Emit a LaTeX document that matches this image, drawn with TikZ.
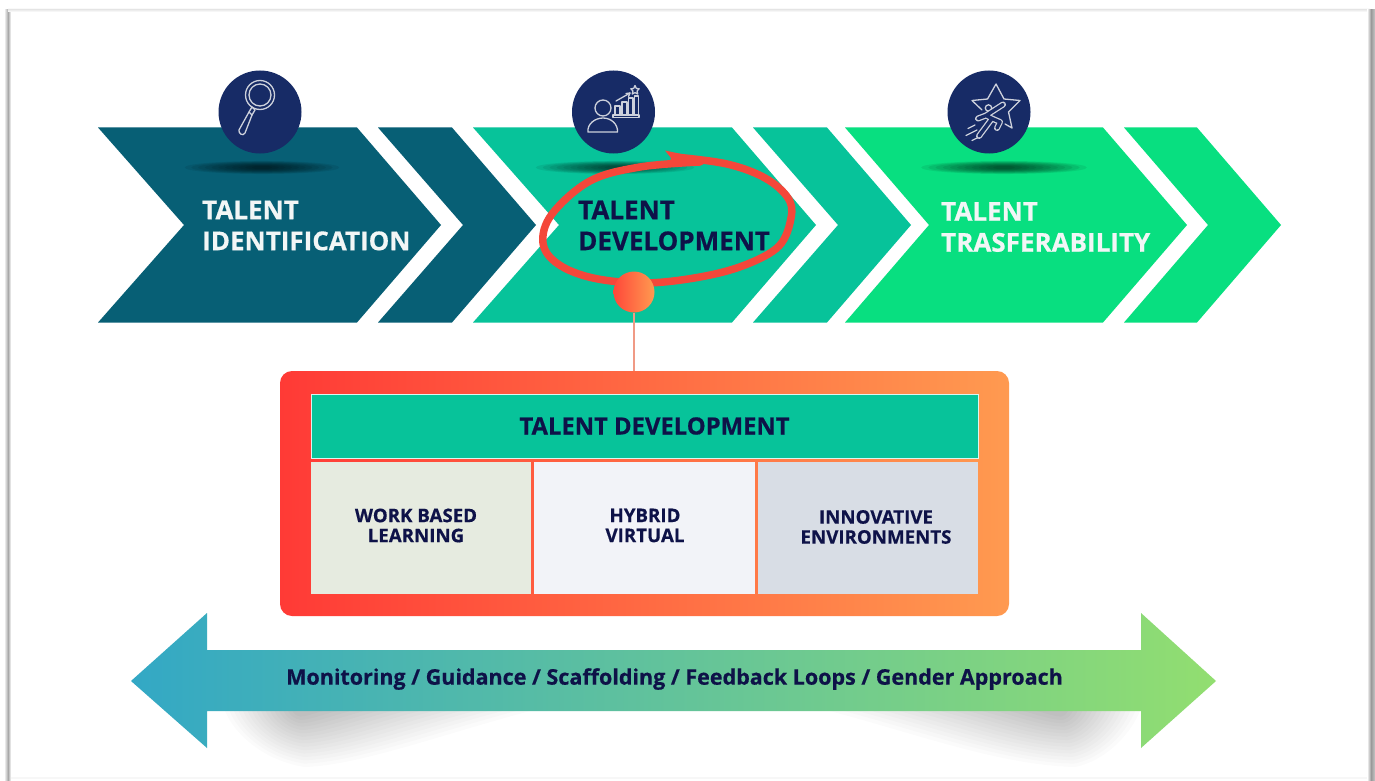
\documentclass[tikz,border=0pt]{standalone}
\usepackage{fontspec}
\setmainfont{Open Sans}[BoldFeatures={FakeBold=0.5}]
\definecolor{teal1}{HTML}{075F75}
\definecolor{teal2}{HTML}{07C39A}
\definecolor{teal3}{HTML}{08DF80}
\definecolor{navy}{HTML}{172B66}
\definecolor{ink}{HTML}{0E1248}
\definecolor{paper}{HTML}{F2F6F6}
\definecolor{icon}{HTML}{CDD1DC}
\definecolor{redloop}{HTML}{F4473A}
\definecolor{boxl}{HTML}{FF3A36}
\definecolor{boxr}{HTML}{FF9A50}
\definecolor{stem}{HTML}{F09A85}
\definecolor{cellA}{HTML}{E6EBE0}
\definecolor{cellB}{HTML}{F2F3F8}
\definecolor{cellC}{HTML}{D8DDE5}
\tikzset{
  iconline/.style={draw=icon,line width=1.3pt,line join=round,line cap=round},
  badge/.style={circle,fill=navy,minimum size=83pt,inner sep=0pt},
  steplabel/.style={anchor=west,align=left,inner sep=0pt,font=\bfseries\fontsize{26}{31}\selectfont},
  cellbox/.style={minimum height=132pt,inner sep=0pt,fill=#1},
  celltext/.style={inner sep=0pt,align=center,text=ink,font=\bfseries\fontsize{18.7}{20}\selectfont},
}
\newcommand{\chev}[5]{% colour, x left, notch, right, tip
  \fill[#1] (#2,127.5) -- (#4,127.5) -- (#5,225) -- (#4,322.5) -- (#2,322.5) -- (#3,225) -- cycle;
}
\newcommand{\blurbar}[2]{%
  \foreach \s in {0.12,0.2,...,1.0}{\fill[black,opacity=0.075] (#1,167.5) ellipse [x radius=#2*\s,y radius=1+6*\s];}
}
\begin{document}
\begin{tikzpicture}[x=1pt,y=-1pt]
\useasboundingbox (0,0) rectangle (1375,781);
\fill[white] (0,0) rectangle (1375,781);
% page edge
\fill[left color=white,right color=black!34] (4,10) rectangle (8,781);
\fill[left color=black!34,right color=white] (8,10) rectangle (11,781);
\fill[top color=white,bottom color=black!7] (8,7) rectangle (1370,10);
\fill[bottom color=white,top color=black!7] (8,10) rectangle (1370,12);
\fill[left color=white,right color=black!40] (1367,10) rectangle (1371,781);
\fill[left color=black!40,right color=black!22] (1371,10) rectangle (1375,781);
\fill[black!3] (11,777) rectangle (1367,779);
% chevrons
\chev{teal1}{98}{184}{357}{441}
\chev{teal1}{378}{463}{452}{536}
\chev{teal2}{473}{559}{732}{816}
\chev{teal2}{753}{838}{827}{911}
\chev{teal3}{845}{929}{1103}{1187}
\chev{teal3}{1124}{1208}{1197}{1281}
% contact shadows
\blurbar{262}{84}
\blurbar{615}{86}
\blurbar{1004}{90}
% badges
\node[badge] (b1) at (260,112) {};
\node[badge] (b2) at (613.5,112) {};
\node[badge] (b3) at (989,112) {};
% magnifier
\draw[iconline] (260,95) circle (14.5);
\draw[iconline] (260,95) circle (11);
\draw[iconline] (252,107) -- (249,112) -- (252,115) -- (255,110) -- cycle;
\draw[iconline] (249,112) -- (239,130) .. controls (238,133) and (243,137) .. (245,133) -- (252,115);
% person and chart
\draw[iconline] (603,108) circle (8);
\draw[iconline] (588,132) -- (617.5,132) .. controls (618,124) and (611,118) .. (603,118) .. controls (595,118) and (587,124) .. (588,132) -- cycle;
\draw[iconline] (613,115) rectangle (639,117.5);
\draw[iconline] (615,115) -- (615,106) -- (620,106) -- (620,115);
\draw[iconline] (622,115) -- (622,102) -- (627,102) -- (627,115);
\draw[iconline] (628.5,115) -- (628.5,98) -- (633,98) -- (633,115);
\draw[iconline] (634.5,115) -- (634.5,96) -- (638.5,96) -- (638.5,115);
\draw[iconline] (616,101) -- (630,93);
\draw[iconline] (630,93) -- (626,93.5) (630,93) -- (628.5,96.5);
\draw[iconline] (635,85.5) -- (636.3,88.4) -- (639.2,88.8) -- (637.1,91) -- (637.7,94) -- (635,92.6) -- (632.3,94) -- (632.9,91) -- (630.8,88.8) -- (633.7,88.4) -- cycle;
% star and runner
\draw[iconline] (982,110) -- (972,100.5) -- (987.5,99) -- (996,84) -- (1004,99) -- (1020,100.5) -- (1008.5,112) -- (1012,128) -- (1005,124);
\draw[iconline] (988.5,108) circle (3.2);
\draw[icon,line width=6pt,line join=round,line cap=round] (978,118.5) -- (986,115.5) -- (1003,104.5) (986,115.5) -- (992,118.5) -- (979,136) (992,118.5) -- (1000,122) -- (997,128);
\draw[navy,line width=3.4pt,line join=round,line cap=round] (978,118.5) -- (986,115.5) -- (1003,104.5) (986,115.5) -- (992,118.5) -- (979,136) (992,118.5) -- (1000,122) -- (997,128);
\draw[iconline] (968,128.5) -- (975,125);
\draw[iconline] (966,135.5) -- (977,130);
\draw[iconline] (972,140.5) -- (978,137.5);
% step labels
\node[steplabel,text=paper] (t1) at (202,225.5) {TALENT\\IDENTIFICATION};
\node[steplabel,text=ink] (t2) at (578,225.5) {TALENT\\DEVELOPMENT};
\node[steplabel,text=paper] (t3) at (941,227) {TALENT\\TRASFERABILITY};
% hand drawn loop
\draw[redloop,line width=7.5pt,line cap=round,line join=round] plot[smooth,tension=0.6] coordinates {(675,157) (727,164) (765,178) (788,198) (791,218) (779,246) (745,265) (700,277) (645,283) (593,278) (558,264) (543,243) (552,214) (590,181) (640,167) (700,162)};
\fill[redloop] (665,150.5) -- (700,158) -- (700,164) -- (669,165) -- (671,158) -- cycle;
% ball and detail box
\node[circle,minimum size=41pt,inner sep=0pt,left color=boxl!85!boxr,right color=boxr] (ball) at (634,292) {};
\node[rounded corners=12pt,minimum width=729pt,minimum height=245pt,inner sep=0pt,left color=boxl,right color=boxr] (panel) at (644.5,493.5) {};
\draw[stem,line width=1.5pt] (ball.south) -- (ball.south |- panel.north);
\node[minimum width=667pt,minimum height=64pt,inner sep=0pt,fill=teal2,draw=white!85!teal2,line width=0.8pt] (head) at (644.5,426) {};
\node[inner sep=0pt,text=ink,font=\bfseries\fontsize{23.8}{25}\selectfont] (headtext) at (654.5,426) {TALENT DEVELOPMENT};
\node[cellbox=cellA,minimum width=220.5pt] (c1) at (420.75,528) {};
\node[cellbox=cellB,minimum width=221pt] (c2) at (644.5,528) {};
\node[cellbox=cellC,minimum width=220pt] (c3) at (868,528) {};
\node[celltext] (c1t) at (416,525.5) {WORK BASED\\LEARNING};
\node[celltext] (c2t) at (645,525.5) {HYBRID\\VIRTUAL};
\node[celltext] (c3t) at (876,527) {INNOVATIVE\\ENVIRONMENTS};
% shadows under the arrow
\foreach \s in {0.1,0.16,...,1.0}{
  \fill[black,opacity=0.014] (300-75*\s,711) -- (300+230*\s,711) .. controls (300+140*\s,711+24*\s) and (300+60*\s,711+54*\s) .. (300+5*\s,711+56*\s) .. controls (300-35*\s,711+50*\s) and (300-65*\s,711+24*\s) .. cycle;
  \fill[black,opacity=0.014] (1060+80*\s,711) -- (1060-230*\s,711) .. controls (1060-140*\s,711+24*\s) and (1060-60*\s,711+54*\s) .. (1060+15*\s,711+56*\s) .. controls (1060+45*\s,711+50*\s) and (1060+70*\s,711+24*\s) .. cycle;
}
% double arrow
\shade[left color={rgb,255:red,51;green,168;blue,197},middle color={rgb,255:red,88;green,190;blue,160},right color={rgb,255:red,146;green,222;blue,112}]
  (131,681) -- (207,613) -- (207,650) -- (1141,650) -- (1141,613) -- (1216,681) -- (1141,748) -- (1141,711) -- (207,711) -- (207,748) -- cycle;
\node[inner sep=0pt,text=ink,font=\bfseries\fontsize{21.5}{24}\selectfont] (atext) at (674.5,679) {Monitoring / Guidance / Scaffolding / Feedback Loops / Gender Approach};
\end{tikzpicture}
\end{document}
